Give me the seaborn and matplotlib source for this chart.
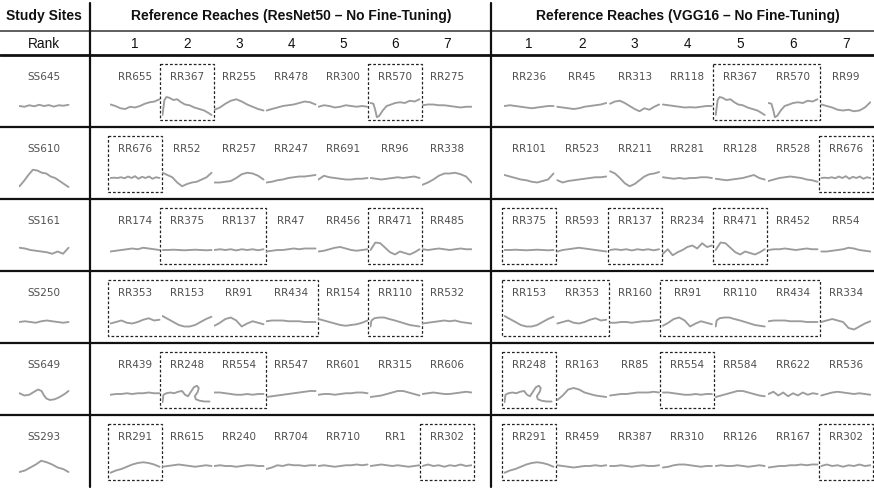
import numpy as np
import matplotlib
matplotlib.use("Agg")
import matplotlib.pyplot as plt
from matplotlib.patches import Rectangle
import seaborn as sns

# ---------------------------------------------------------------
# Table content
# ---------------------------------------------------------------
study_sites = ["SS645", "SS610", "SS161", "SS250", "SS649", "SS293"]
rank_labels = ["1", "2", "3", "4", "5", "6", "7"]

resnet_top7 = [
    ["RR655", "RR367", "RR255", "RR478", "RR300", "RR570", "RR275"],
    ["RR676", "RR52", "RR257", "RR247", "RR691", "RR96", "RR338"],
    ["RR174", "RR375", "RR137", "RR47", "RR456", "RR471", "RR485"],
    ["RR353", "RR153", "RR91", "RR434", "RR154", "RR110", "RR532"],
    ["RR439", "RR248", "RR554", "RR547", "RR601", "RR315", "RR606"],
    ["RR291", "RR615", "RR240", "RR704", "RR710", "RR1", "RR302"],
]
vgg_top7 = [
    ["RR236", "RR45", "RR313", "RR118", "RR367", "RR570", "RR99"],
    ["RR101", "RR523", "RR211", "RR281", "RR128", "RR528", "RR676"],
    ["RR375", "RR593", "RR137", "RR234", "RR471", "RR452", "RR54"],
    ["RR153", "RR353", "RR160", "RR91", "RR110", "RR434", "RR334"],
    ["RR248", "RR163", "RR85", "RR554", "RR584", "RR622", "RR536"],
    ["RR291", "RR459", "RR387", "RR310", "RR126", "RR167", "RR302"],
]

# ---------------------------------------------------------------
# Reach centre-line profiles (lateral offset along the reach)
# ---------------------------------------------------------------
SS645 = [0.0, -0.05, 0.05, -0.02, 0.08, 0.0, 0.06, -0.04, 0.05, 0.02, 0.08]
RR655 = [0.1, 0.0, -0.15, -0.2, -0.05, -0.1, 0.0, 0.15, 0.25, 0.3, 0.45]
RR367_X = [0.0, 0.02, 0.04, 0.08, 0.14, 0.22, 0.3, 0.38, 0.46, 0.55, 0.65, 0.75, 0.85, 0.93, 1.0]
RR367 = [-0.6, -0.1, 0.4, 0.6, 0.55, 0.4, 0.45, 0.25, 0.1, 0.05, -0.1, -0.2, -0.3, -0.45, -0.6]
RR255 = [-0.25, -0.1, 0.15, 0.35, 0.45, 0.3, 0.1, -0.05, -0.2, -0.3]
RR478 = [-0.3, -0.2, -0.1, 0.0, 0.05, 0.1, 0.2, 0.3, 0.25, 0.1]
RR300 = [-0.05, 0.05, 0.0, -0.1, -0.05, 0.05, 0.0, -0.05, 0.0, -0.05]
RR570_X = [0.0, 0.06, 0.1, 0.13, 0.18, 0.25, 0.33, 0.42, 0.5, 0.6, 0.7, 0.8, 0.9, 1.0]
RR570 = [0.2, 0.15, -0.3, -0.75, -0.65, -0.3, 0.0, 0.1, 0.2, 0.25, 0.2, 0.35, 0.3, 0.45]
RR275 = [0.05, 0.1, 0.1, 0.05, 0.05, 0.0, -0.05, -0.1, -0.05, -0.05]
RR236 = [0.0, 0.05, 0.0, -0.05, -0.1, -0.15, -0.1, -0.05, 0.0, 0.0]
RR45 = [-0.05, -0.1, -0.15, -0.2, -0.15, -0.05, 0.0, 0.05, 0.1, 0.2]
RR313 = [0.15, 0.3, 0.35, 0.2, 0.0, -0.2, -0.35, -0.15, -0.25, -0.05, 0.1]
RR118 = [0.1, 0.05, 0.0, -0.05, -0.1, -0.08, -0.1, -0.05, 0.0, 0.0]
RR99 = [0.1, 0.0, -0.1, -0.25, -0.3, -0.25, -0.35, -0.3, -0.1, 0.25]

SS610 = [-0.55, -0.2, 0.2, 0.55, 0.5, 0.35, 0.3, 0.1, 0.0, -0.2, -0.4, -0.6]
RR676 = [0.0, 0.02, 0.0, 0.05, -0.02, 0.1, 0.0, 0.12, -0.05, 0.08, 0.0, 0.1, -0.05, 0.05, 0.0]
RR52 = [0.35, 0.2, 0.05, -0.3, -0.55, -0.4, -0.3, -0.25, -0.1, 0.05, 0.35]
RR257 = [-0.3, -0.3, -0.25, -0.2, 0.0, 0.25, 0.35, 0.3, 0.15, -0.1]
RR247 = [-0.3, -0.25, -0.15, -0.1, 0.0, 0.05, 0.1, 0.1, 0.15, 0.2]
RR691 = [-0.1, 0.15, 0.05, 0.0, -0.05, -0.1, -0.1, -0.05, -0.05, 0.0]
RR96 = [0.0, -0.05, -0.1, -0.05, 0.0, 0.05, 0.0, 0.05, 0.1, 0.0]
RR338 = [-0.45, -0.3, -0.1, 0.15, 0.3, 0.3, 0.35, 0.25, 0.1, -0.3]
RR101 = [0.2, 0.1, 0.0, -0.1, -0.15, -0.25, -0.3, -0.2, -0.1, 0.3]
RR523 = [-0.15, -0.3, -0.2, -0.15, -0.1, -0.05, 0.0, 0.05, 0.05, 0.1]
RR211 = [0.45, 0.3, 0.0, -0.35, -0.55, -0.4, -0.15, 0.1, 0.25, 0.3, 0.4]
RR281 = [0.05, 0.0, -0.05, 0.0, -0.05, 0.0, 0.0, 0.05, 0.05, 0.0]
RR128 = [-0.05, -0.1, -0.15, -0.1, -0.05, 0.0, 0.1, 0.2, 0.0, -0.1]
RR528 = [-0.2, -0.1, 0.0, 0.05, 0.1, 0.05, 0.0, -0.1, -0.15, -0.25]

SS161 = [0.15, 0.1, 0.0, -0.05, -0.1, -0.15, -0.25, -0.1, -0.25, 0.15]
RR174 = [-0.1, -0.05, 0.0, 0.05, 0.1, 0.05, 0.15, 0.1, 0.05, 0.0]
RR375 = [0.0, 0.0, 0.02, 0.0, -0.02, 0.0, 0.02, 0.0, -0.02, 0.0]
RR137 = [0.0, 0.05, 0.0, 0.05, -0.03, 0.05, 0.0, 0.05, -0.02, 0.05]
RR47 = [-0.1, -0.05, 0.0, 0.0, 0.05, 0.1, 0.05, 0.1, 0.1, 0.1]
RR456 = [-0.1, -0.05, 0.05, 0.15, 0.2, 0.1, 0.0, -0.05, 0.0, 0.05]
RR471 = [0.0, 0.5, 0.45, 0.15, -0.15, -0.3, -0.1, -0.2, -0.3, -0.15, 0.05]
RR485 = [0.05, 0.0, 0.05, 0.1, 0.05, 0.0, 0.05, 0.1, 0.05, 0.05]
RR593 = [-0.1, 0.0, 0.05, 0.1, 0.15, 0.1, 0.05, 0.0, -0.05, -0.1]
RR234 = [-0.25, 0.05, -0.35, -0.15, 0.0, 0.2, 0.3, 0.1, 0.45, 0.2, 0.3]
RR452 = [0.0, 0.05, 0.05, 0.1, 0.05, 0.0, 0.05, 0.1, 0.05, 0.05]
RR54 = [-0.1, -0.1, -0.05, 0.0, 0.05, 0.15, 0.1, 0.0, -0.05, -0.1]

SS250 = [0.0, 0.05, 0.0, -0.05, 0.05, 0.1, 0.05, 0.0, -0.05, 0.0]
RR353 = [-0.1, 0.0, 0.1, -0.05, -0.1, 0.0, 0.15, 0.25, 0.1, 0.15]
RR153 = [0.4, 0.2, 0.0, -0.2, -0.3, -0.3, -0.2, 0.0, 0.2, 0.35]
RR91 = [-0.25, -0.05, 0.2, 0.3, 0.1, -0.3, -0.1, 0.05, -0.05, -0.15]
RR434 = [0.05, 0.1, 0.1, 0.1, 0.05, 0.05, 0.05, 0.0, 0.0, 0.0]
RR154 = [0.2, 0.1, 0.0, -0.1, -0.2, -0.25, -0.2, -0.15, -0.05, 0.1]
RR110_X = [0.0, 0.02, 0.08, 0.18, 0.28, 0.38, 0.5, 0.6, 0.7, 0.8, 0.9, 1.0]
RR110 = [-0.3, 0.1, 0.25, 0.3, 0.3, 0.2, 0.1, 0.0, -0.1, -0.2, -0.25, -0.3]
RR532 = [-0.1, -0.05, 0.0, 0.05, 0.1, 0.05, 0.1, 0.0, -0.05, -0.1]
RR160 = [-0.05, -0.05, 0.0, 0.0, -0.05, 0.0, 0.05, 0.05, 0.1, 0.15]
RR334 = [0.0, 0.1, 0.2, 0.1, 0.0, -0.4, -0.5, -0.3, -0.1, 0.05]

SS649_X = [0.0, 0.1, 0.2, 0.3, 0.38, 0.45, 0.5, 0.55, 0.62, 0.72, 0.82, 0.92, 1.0]
SS649 = [0.05, -0.1, -0.05, 0.15, 0.3, 0.2, -0.1, -0.3, -0.4, -0.35, -0.2, 0.0, 0.2]
RR439 = [-0.05, 0.0, 0.0, 0.05, 0.0, 0.05, 0.05, 0.1, 0.05, 0.05]
RR248_X = [0.0, 0.02, 0.08, 0.16, 0.24, 0.32, 0.4, 0.46, 0.52, 0.58, 0.64, 0.7, 0.74,
           0.72, 0.66, 0.68, 0.76, 0.86, 0.96]
RR248 = [-0.55, -0.05, 0.05, 0.1, 0.05, 0.15, 0.2, -0.05, -0.15, 0.15, 0.45, 0.55, 0.4,
         0.15, -0.15, -0.35, -0.45, -0.5, -0.5]
RR554 = [0.1, 0.1, 0.05, 0.0, -0.05, -0.05, 0.0, -0.05, 0.0, 0.0]
RR547 = [-0.2, -0.15, -0.1, -0.05, 0.0, 0.05, 0.1, 0.15, 0.2, 0.2]
RR601 = [-0.05, 0.0, 0.0, -0.05, 0.0, 0.05, 0.05, 0.1, 0.1, 0.05]
RR315 = [-0.2, -0.15, -0.1, 0.0, 0.1, 0.2, 0.2, 0.1, 0.0, -0.1]
RR606 = [0.0, 0.05, 0.1, 0.05, 0.0, 0.0, 0.05, 0.1, 0.15, 0.1]
RR163 = [-0.4, -0.1, 0.3, 0.4, 0.3, 0.1, 0.0, -0.1, -0.15, -0.2]
RR85 = [-0.1, -0.05, 0.0, 0.0, 0.05, 0.1, 0.1, 0.1, 0.15, 0.1]
RR584 = [-0.2, -0.1, 0.0, 0.1, 0.2, 0.2, 0.1, 0.0, -0.1, -0.15]
RR622 = [0.0, 0.15, -0.1, 0.1, -0.15, 0.05, -0.1, 0.1, -0.05, 0.05, 0.0]
RR536 = [-0.1, 0.0, 0.1, 0.15, 0.1, 0.05, 0.0, 0.05, 0.0, -0.05]

SS293 = [-0.4, -0.3, -0.1, 0.1, 0.35, 0.25, 0.1, -0.1, -0.2, -0.4]
RR291 = [-0.45, -0.3, -0.2, -0.05, 0.1, 0.2, 0.25, 0.2, 0.1, -0.05]
RR615 = [-0.05, 0.0, 0.05, 0.1, 0.05, 0.0, -0.05, 0.0, 0.05, 0.0]
RR240 = [0.0, 0.05, 0.0, 0.0, -0.05, 0.0, 0.05, 0.05, 0.0, 0.0]
RR704 = [-0.2, -0.1, 0.05, 0.0, 0.1, 0.05, 0.05, 0.0, 0.05, 0.05]
RR710 = [0.0, 0.05, 0.0, -0.05, 0.0, 0.05, 0.05, 0.1, 0.05, 0.1]
RR1 = [0.0, 0.05, 0.1, 0.05, 0.0, 0.05, 0.0, -0.05, 0.0, 0.05]
RR302 = [0.0, 0.1, 0.0, 0.05, -0.05, 0.05, 0.0, 0.1, 0.0, 0.05]
RR459 = [0.05, 0.0, -0.05, -0.1, -0.05, 0.0, 0.0, 0.05, 0.0, 0.05]
RR387 = [0.0, 0.0, 0.05, 0.0, -0.05, 0.0, 0.05, 0.0, 0.0, 0.05]
RR310 = [-0.1, -0.05, 0.05, 0.1, 0.1, 0.05, 0.0, -0.05, 0.0, 0.0]
RR126 = [0.0, 0.05, 0.0, 0.0, 0.05, 0.0, -0.05, 0.0, 0.05, 0.0]
RR167 = [-0.1, -0.05, 0.0, 0.0, 0.05, 0.05, 0.1, 0.05, 0.1, 0.1]


def profile(name):
    ys = globals()[name]
    xs = globals().get(name + "_X", np.linspace(0, 1, len(ys)))
    return np.asarray(xs, float), np.asarray(ys, float)


# ---------------------------------------------------------------
# Figure set-up (pixel grid for the table frame)
# ---------------------------------------------------------------
W, H = 874, 491
sns.set_theme(style="white")
plt.rcParams["font.family"] = ["Liberation Sans", "DejaVu Sans"]

fig = plt.figure(figsize=(W / 100, H / 100), dpi=100)
frame = fig.add_axes([0, 0, 1, 1])
frame.set_xlim(0, W)
frame.set_ylim(H, 0)
frame.axis("off")

site_x = 44
resnet_x = [135 + 52 * i for i in range(7)]
vgg_x = [529 + 52.8 * i for i in range(7)]
row_tops = [55, 127, 199, 271, 343, 415]
row_h = 72

line_col = "#9c9c9c"
label_col = "#505050"

# header text
hdr = dict(fontsize=10, fontweight="bold", color="#111111", ha="center", va="center")
frame.text(site_x, 16, "Study Sites", **hdr)
frame.text(resnet_x[3], 16, "Reference Reaches (ResNet50 \u2013 No Fine-Tuning)", **hdr)
frame.text(vgg_x[3], 16, "Reference Reaches (VGG16 \u2013 No Fine-Tuning)", **hdr)
rk = dict(fontsize=9.8, color="#111111", ha="center", va="center")
frame.text(site_x, 44, "Rank", **rk)
for i, r in enumerate(rank_labels):
    frame.text(resnet_x[i], 44, r, **rk)
    frame.text(vgg_x[i], 44, r, **rk)

# rules
frame.plot([0, W], [31, 31], color="#333333", lw=1.1)
frame.plot([0, W], [55, 55], color="#111111", lw=2.0)
for t in row_tops[1:]:
    frame.plot([0, W], [t, t], color="#111111", lw=1.6)
for xv in (90, 491):
    frame.plot([xv, xv], [3, 487], color="#111111", lw=1.6)


def sketch(cx, cy, name):
    w, h = 51, 30
    ax = fig.add_axes([(cx - w / 2) / W, 1 - (cy + h / 2) / H, w / W, h / H])
    xs, ys = profile(name)
    sns.lineplot(x=xs, y=ys, ax=ax, color=line_col, linewidth=1.35,
                 sort=False, estimator=None)
    ax.set_xlim(-0.02, 1.02)
    ax.set_ylim(-1, 1)
    ax.axis("off")
    ax.patch.set_alpha(0)


def shared_runs(names, others):
    runs, start = [], None
    for i, n in enumerate(names + [None]):
        hit = n is not None and n in others
        if hit and start is None:
            start = i
        if not hit and start is not None:
            runs.append((start, i - 1))
            start = None
    return runs


lab = dict(fontsize=7.5, color=label_col, ha="center", va="center",
           family=["DejaVu Sans"])
for r, top in enumerate(row_tops):
    ly, sy = top + 22, top + 51
    frame.text(site_x, ly, study_sites[r], **lab)
    sketch(site_x, sy, study_sites[r])
    for cols, names, others in ((resnet_x, resnet_top7[r], vgg_top7[r]),
                                (vgg_x, vgg_top7[r], resnet_top7[r])):
        for c, n in enumerate(names):
            frame.text(cols[c], ly, n, **lab)
            sketch(cols[c], sy, n)
        for a, b in shared_runs(names, others):
            x0, x1 = cols[a] - 27, cols[b] + 27
            frame.add_patch(Rectangle((x0, top + 9), x1 - x0, row_h - 16,
                                      fill=False, ec="#222222", lw=0.9,
                                      ls=(0, (2.2, 1.6))))

fig.savefig("out.png", dpi=100, facecolor="white")
